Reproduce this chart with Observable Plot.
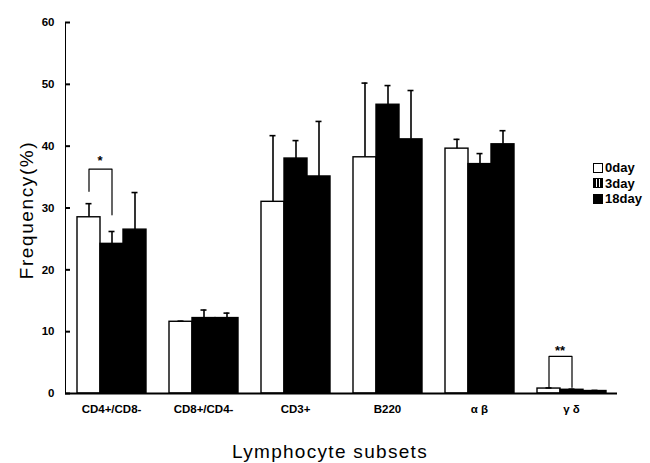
<!DOCTYPE html>
<html>
<head>
<meta charset="utf-8">
<script src="https://cdn.jsdelivr.net/npm/d3@7"></script>
<script src="https://cdn.jsdelivr.net/npm/@observablehq/plot@0.6"></script>
<style>
  body { margin: 0; background: #fff; }
  #wrap { position: relative; width: 650px; height: 463px; font-family: "Liberation Sans", Arial, sans-serif; }
  #wrap svg [aria-label^="y-axis"] path, #wrap svg [aria-label^="y-axis"] line { stroke-width: 2px; }
  #ytitle { position: absolute; left: 27px; top: 210px; transform: translate(-50%, -50%) rotate(-90deg); font-size: 19px; letter-spacing: 1.6px; white-space: nowrap; }
  #xtitle { position: absolute; left: 330px; top: 452px; transform: translate(-50%, -50%); font-size: 19px; letter-spacing: 1.3px; white-space: nowrap; }
  #legend { position: absolute; left: 593px; top: 160px; font-size: 13px; font-weight: bold; line-height: 15.5px; }
  #legend .row { display: flex; align-items: center; }
  #legend .sw { width: 8px; height: 8px; border: 1.5px solid #000; margin-right: 2px; box-sizing: content-box; }
  #legend .s0 { background: #fff; }
  #legend .s3 { background: repeating-linear-gradient(90deg, #000 0 2px, #fff 2px 3px); }
  #legend .s18 { background: #000; }
</style>
</head>
<body>
<div id="wrap"></div>
<script>
const subsets = ["CD4+/CD8-", "CD8+/CD4-", "CD3+", "B220", "α β", "γ δ"];
const days = ["0day", "3day", "18day"];
const dayFills = ["white", "black", "black"];
const mean0  = [28.5, 11.6, 31.0, 38.2, 39.6, 0.8];
const mean3  = [24.2, 12.2, 38.0, 46.7, 37.1, 0.6];
const mean18 = [26.5, 12.2, 35.1, 41.1, 40.3, 0.4];
const sd0  = [2.2, 0.1, 10.7, 12.0, 1.5, 0.1];
const sd3  = [2.0, 1.3, 2.9, 3.1, 1.7, 0.1];
const sd18 = [6.0, 0.8, 8.9, 7.9, 2.2, 0.1];
const yTicks = [0, 10, 20, 30, 40, 50, 60];
// significance brackets between 0day and 3day
const sigSubsets = ["CD4+/CD8-", "γ δ"];
const sigLabels = ["*", "**"];
const sigTop = [36.3, 6.0];
const sigLeftFoot = [32.7, 1.0];
const sigRightFoot = [28.9, 1.0];
const sigLabelY = [37.6, 6.9];

const means = [mean0, mean3, mean18];
const sds = [sd0, sd3, sd18];
const rows = [];
subsets.forEach((s, i) => days.forEach((d, j) => {
  rows.push({subset: s, day: d, mean: means[j][i], top: means[j][i] + sds[j][i]});
}));
const bracket = [];
sigSubsets.forEach((s, i) => {
  bracket.push({id: i, subset: s, day: "0day", v: sigLeftFoot[i]});
  bracket.push({id: i, subset: s, day: "0day", v: sigTop[i]});
  bracket.push({id: i, subset: s, day: "3day", v: sigTop[i]});
  bracket.push({id: i, subset: s, day: "3day", v: sigRightFoot[i]});
});
const sigText = sigSubsets.map((s, i) => ({subset: s, day: "0day", v: sigLabelY[i], label: sigLabels[i]}));

const chart = Plot.plot({
  width: 650, height: 463,
  marginLeft: 65, marginRight: 33, marginTop: 22, marginBottom: 70,
  style: {fontFamily: "Liberation Sans, Arial, sans-serif", fontSize: "11.5px", fontWeight: "bold", background: "white", color: "black", overflow: "visible"},
  fx: {domain: subsets, padding: 0, label: null, axis: "bottom", tickSize: 0, tickPadding: 11},
  x: {domain: days, paddingInner: 0, paddingOuter: 0.49, axis: null},
  y: {domain: [0, 60], ticks: yTicks, label: null, line: true, tickSize: -5, tickPadding: 16},
  color: {domain: days, range: dayFills},
  marks: [
    Plot.barY(rows, {fx: "subset", x: "day", y: "mean", fill: "day", stroke: "black", strokeWidth: 1.4}),
    Plot.ruleX(rows, {fx: "subset", x: "day", y1: "mean", y2: "top", stroke: "black", strokeWidth: 1.6}),
    Plot.tickY(rows, {fx: "subset", x: "day", y: "top", insetLeft: 8.5, insetRight: 8.5, stroke: "black", strokeWidth: 1.6}),
    Plot.line(bracket, {fx: "subset", x: "day", y: "v", z: "id", stroke: "black", strokeWidth: 1.2}),
    Plot.text(sigText, {fx: "subset", x: "day", y: "v", text: "label", dx: 11, fontSize: 13, fontWeight: "bold"}),
    Plot.ruleY([0], {stroke: "black", strokeWidth: 2})
  ]
});
const wrap = document.getElementById("wrap");
wrap.appendChild(chart);

const yt = document.createElement("div"); yt.id = "ytitle"; yt.textContent = "Frequency(%)"; wrap.appendChild(yt);
const xt = document.createElement("div"); xt.id = "xtitle"; xt.textContent = "Lymphocyte subsets"; wrap.appendChild(xt);
const lg = document.createElement("div"); lg.id = "legend";
const swClass = ["s0", "s3", "s18"];
days.forEach((d, j) => {
  const r = document.createElement("div"); r.className = "row";
  const sw = document.createElement("span"); sw.className = "sw " + swClass[j];
  const t = document.createElement("span"); t.textContent = d;
  r.appendChild(sw); r.appendChild(t); lg.appendChild(r);
});
wrap.appendChild(lg);
</script>
</body>
</html>
